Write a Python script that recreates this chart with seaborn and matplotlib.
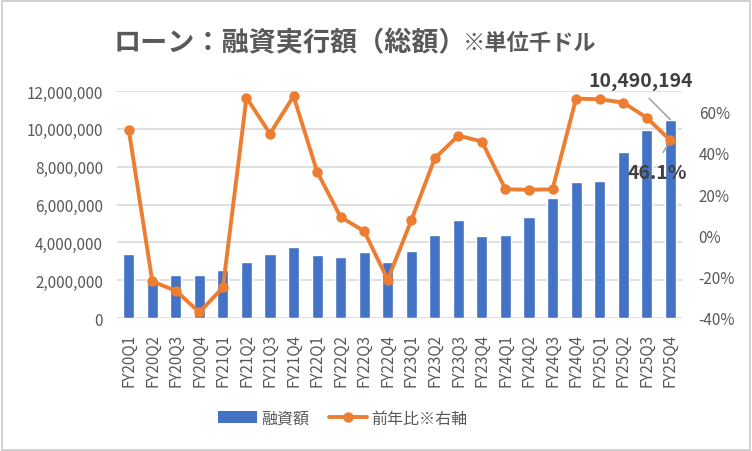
import numpy as np
import matplotlib
matplotlib.use("Agg")
import matplotlib.pyplot as plt
import matplotlib.ticker as mticker
from matplotlib.lines import Line2D
from matplotlib.patches import Patch, Rectangle
import seaborn as sns

sns.set_style("white")
plt.rcParams["font.family"] = ["Noto Sans CJK JP", "DejaVu Sans"]

# データ
quarters = ["FY20Q1", "FY20Q2", "FY20Q3", "FY20Q4",
            "FY21Q1", "FY21Q2", "FY21Q3", "FY21Q4",
            "FY22Q1", "FY22Q2", "FY22Q3", "FY22Q4",
            "FY23Q1", "FY23Q2", "FY23Q3", "FY23Q4",
            "FY24Q1", "FY24Q2", "FY24Q3", "FY24Q4",
            "FY25Q1", "FY25Q2", "FY25Q3", "FY25Q4"]
loan_amount = [3380000, 2060000, 2270000, 2270000,
               2550000, 2980000, 3380000, 3770000,
               3330000, 3240000, 3500000, 2970000,
               3560000, 4400000, 5180000, 4350000,
               4400000, 5350000, 6360000, 7200000,
               7260000, 8790000, 9950000, 10490194]
yoy = [0.512, -0.223, -0.268, -0.372,
       -0.252, 0.668, 0.493, 0.675,
       0.309, 0.089, 0.021, -0.215,
       0.073, 0.374, 0.484, 0.455,
       0.224, 0.221, 0.224, 0.663,
       0.660, 0.644, 0.571, 0.461]

BLUE = "#4472C4"
ORANGE = "#ED7D31"
GREY = "#595959"
GRID = "#D9D9D9"

fig = plt.figure(figsize=(7.52, 4.52), dpi=100)
ax = fig.add_axes([117/752, 1-319/452, (682-117)/752, (319-92)/452])

x = np.arange(len(quarters))
sns.barplot(x=x, y=loan_amount, color=BLUE, width=0.47, saturation=1, ax=ax)
ax.set_xlim(-0.5, len(quarters) - 0.5)
ax.set_ylim(0, 12000000)
ax.set_yticks(np.arange(0, 12000001, 2000000))
ax.yaxis.set_major_formatter(mticker.FuncFormatter(lambda v, p: f"{int(v):,}"))
ax.set_xticks(x)
ax.set_xticklabels(quarters, rotation=90)
ax.grid(axis="y", color=GRID, linewidth=1.2)
ax.set_axisbelow(True)
for s in ax.spines.values():
    s.set_visible(False)
ax.tick_params(axis="both", length=0, colors=GREY, labelsize=11)
ax.tick_params(axis="x", pad=11)
ax.tick_params(axis="y", pad=10)

ax2 = ax.twinx()
sns.lineplot(x=x, y=yoy, color=ORANGE, linewidth=2.8, marker="o",
             markersize=7.5, markeredgewidth=0, ax=ax2)
ax2.set_ylim(-0.4, 0.7)
ax2.set_yticks(np.arange(-0.4, 0.61, 0.2))
ax2.yaxis.set_major_formatter(mticker.FuncFormatter(lambda v, p: f"{round(v*100):.0f}%"))
for s in ax2.spines.values():
    s.set_visible(False)
ax2.tick_params(axis="y", length=0, colors=GREY, labelsize=11, pad=12)
ax2.set_xlim(-0.5, len(quarters) - 0.5)

# データラベル
last = len(quarters) - 1
ax.annotate(f"{loan_amount[last]:,}", xy=(last, loan_amount[last]),
            xytext=(-21, 28), textcoords="offset points", ha="center", va="center",
            fontsize=14, fontweight="bold", color="#404040",
            arrowprops=dict(arrowstyle="-", color="#A6A6A6", lw=1.2,
                            relpos=(0.5, 0), shrinkA=5, shrinkB=0))
ax2.annotate(f"{yoy[last]*100:.1f}%", xy=(last, yoy[last]),
             xytext=(-9.5, -23), textcoords="offset points", ha="center", va="center",
             fontsize=14, fontweight="bold", color="#404040",
             arrowprops=dict(arrowstyle="-", color="#A6A6A6", lw=1.2,
                             relpos=(0.5, 1), shrinkA=6, shrinkB=4))

# タイトル
fig.text(466/752, 1-43/452, "ローン：融資実行額（総額）", ha="right", va="center",
         fontsize=19.5, fontweight="bold", color=GREY)
fig.text(463/752, 1-44/452, "※単位千ドル", ha="left", va="center",
         fontsize=16, fontweight="bold", color=GREY)

# 凡例
handles = [Patch(facecolor=BLUE, edgecolor="none"),
           Line2D([0], [0], color=ORANGE, linewidth=2.8, marker="o", markersize=7.5,
                  markeredgewidth=0)]
leg = fig.legend(handles, ["融資額", "前年比※右軸"], loc="center",
                 bbox_to_anchor=(343/752, 1-419/452), ncol=2, frameon=False,
                 fontsize=11.5, handlelength=2.4, columnspacing=1.2, handletextpad=0.3)
for t in leg.get_texts():
    t.set_color(GREY)

fig.patches.append(Rectangle((0.002, 0.003), 0.995, 0.993, transform=fig.transFigure,
                             fill=False, edgecolor="#C8C8C8", linewidth=1.2))

fig.savefig("out.png", dpi=100)
